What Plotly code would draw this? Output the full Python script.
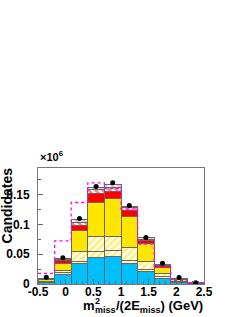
import plotly.graph_objects as go

# bin edges (GeV) and centres
edges = [-0.5, -0.2, 0.1, 0.4, 0.7, 1.0, 1.3, 1.6, 1.9, 2.2, 2.5]
centers = [-0.35, -0.05, 0.25, 0.55, 0.85, 1.15, 1.45, 1.75, 2.05, 2.35]

# stacked components (x10^6 candidates), bottom to top
cyan_bkg   = [0.003, 0.016, 0.034, 0.045, 0.046, 0.034, 0.021, 0.010, 0.003, 0.0008]
hatch_low  = [0.001, 0.0035, 0.004, 0.009, 0.010, 0.006, 0.004, 0.003, 0.001, 0.0002]
hatch_up   = [0.001, 0.004, 0.016, 0.026, 0.024, 0.022, 0.013, 0.004, 0.001, 0.0002]
yellow_bkg = [0.0025, 0.0105, 0.036, 0.0565, 0.064, 0.052, 0.030, 0.0102, 0.0025, 0.0004]
red_bkg    = [0.001, 0.005, 0.008, 0.0155, 0.012, 0.009, 0.0055, 0.0038, 0.0013, 0.0003]
red_hatch  = [0.0005, 0.002, 0.006, 0.007, 0.006, 0.005, 0.002, 0.0015, 0.0007, 0.0001]
gray_hatch = [0.0005, 0.0015, 0.004, 0.004, 0.005, 0.003, 0.002, 0.001, 0.0005, 0.0001]

data_vals  = [0.0115, 0.044, 0.110, 0.164, 0.170, 0.132, 0.078, 0.035, 0.0108, 0.002]
magenta    = [0.018, 0.0725, 0.137, 0.170, 0.161, 0.126, 0.067, 0.028, 0.006, 0.0015]

xtick_vals = [-0.5, 0, 0.5, 1, 1.5, 2, 2.5]
xtick_text = ["-0.5", "0", "0.5", "1", "1.5", "2", "2.5"]
ytick_vals = [0, 0.05, 0.1, 0.15]
ytick_text = ["0", "0.05", "0.1", "0.15"]

FONT = "Liberation Sans"
OUT = "#666666"

fig = go.Figure()

def add_solid(vals, color):
    fig.add_trace(go.Bar(x=centers, y=vals, width=0.3,
                         marker=dict(color=color, line=dict(color=OUT, width=1)),
                         showlegend=False))

def add_hatch(vals, fg, shape):
    fig.add_trace(go.Bar(x=centers, y=vals, width=0.3,
                         marker=dict(color="white", line=dict(color=OUT, width=1),
                                     pattern=dict(shape=shape, fgcolor=fg, bgcolor="white",
                                                  size=5, solidity=0.55, fillmode="overlay")),
                         showlegend=False))

add_solid(cyan_bkg, "#00BFFF")
add_hatch(hatch_low, "#FFE000", "/")
add_hatch(hatch_up, "#FFE000", "/")
add_solid(yellow_bkg, "#FFE600")
add_solid(red_bkg, "#FF0000")
add_hatch(red_hatch, "#FF0000", "\\")
add_hatch(gray_hatch, "#999999", "\\")

fig.add_trace(go.Scatter(x=edges, y=magenta + [magenta[-1]], mode="lines",
                         line=dict(color="#FF00FF", width=1.3, dash="dot", shape="hv"),
                         showlegend=False))
fig.add_trace(go.Scatter(x=centers, y=data_vals, mode="markers",
                         marker=dict(color="black", size=5), showlegend=False))

# plot area in page pixels: x 38..204, y 168..284
def title_part(text, px_left, yshift, size):
    return dict(text=text, xref="paper", yref="paper", x=(px_left - 38) / 166, y=0,
                xanchor="left", yanchor="top", yshift=yshift, showarrow=False,
                font=dict(family=FONT, size=size, weight="bold"))

fig.update_layout(
    width=245, height=317, barmode="stack", bargap=0,
    margin=dict(l=38, r=41, t=168, b=33, autoexpand=False),
    paper_bgcolor="white", plot_bgcolor="white",
    font=dict(family=FONT, size=12, color="black", weight="bold"),
    xaxis=dict(range=[-0.5, 2.5], tickvals=xtick_vals, ticktext=xtick_text, automargin=False,
               ticks="inside", ticklen=5, tickcolor=OUT, showgrid=False, zeroline=False,
               showline=True, mirror=True, linecolor="#777777", linewidth=1,
               tickfont=dict(family=FONT, size=12, weight="bold"), ticklabelstandoff=-3,
               minor=dict(ticks="inside", ticklen=3, dtick=0.1, tick0=-0.5, tickcolor=OUT)),
    yaxis=dict(range=[0, 0.195], tickvals=ytick_vals, ticktext=ytick_text, automargin=False,
               ticks="inside", ticklen=5, tickcolor=OUT, showgrid=False, zeroline=False,
               showline=True, mirror=True, linecolor="#777777", linewidth=1,
               tickfont=dict(family=FONT, size=12, weight="bold"), ticklabelstandoff=5,
               minor=dict(ticks="inside", ticklen=3, dtick=0.025, tick0=0, tickcolor=OUT)),
    annotations=[
        dict(text="Candidates", xref="paper", yref="paper", x=-0.185, y=0.68,
             xanchor="center", yanchor="middle", textangle=-90, showarrow=False,
             font=dict(family=FONT, size=14, weight="bold")),
        dict(text="×10<sup>6</sup>", xref="paper", yref="paper", x=0.0, y=1.0,
             xanchor="left", yanchor="bottom", showarrow=False, yshift=3,
             font=dict(family=FONT, size=11)),
        title_part("m", 81, -12, 13),
        title_part("2", 93, -10, 9),
        title_part("miss", 93, -19, 9),
        title_part("/(2E<sub>miss</sub>) (GeV)", 114, -12, 13),
    ],
)

fig.write_html("out.html", config={"displayModeBar": False, "staticPlot": True},
               post_script="document.body.style.margin='0';document.body.style.overflow='hidden';")
